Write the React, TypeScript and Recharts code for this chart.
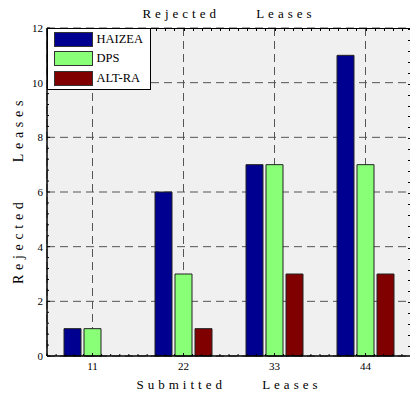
import { Bar, BarChart, CartesianGrid, Legend, XAxis, YAxis } from "recharts";

const LEASES = ["11", "22", "33", "44"];
const HAIZEA = [1, 6, 7, 11];
const DPS = [1, 3, 7, 7];
const ALT_RA = [0, 1, 3, 3];
const SERIES = ["HAIZEA", "DPS", "ALT-RA"];

const Y_TICKS = [0, 2, 4, 6, 8, 10, 12];

const SERIF = '"Liberation Serif", "Times New Roman", serif';
const SPACED = { fontFamily: SERIF, fontSize: 13, fill: "#000", letterSpacing: 4, wordSpacing: 29 };
const AXIS_LINE = { stroke: "#000", strokeWidth: 1.5 };
const X_MARGIN = 6;
const Y_MARGIN = 4;

const data = LEASES.map((lease, i) => ({
  lease,
  HAIZEA: HAIZEA[i],
  DPS: DPS[i],
  "ALT-RA": ALT_RA[i],
}));

// category label plus the small tick marks along the bottom edge
function XTick(props: any) {
  const { x, y, payload, width, visibleTicksCount } = props;
  const band = width / visibleTicksCount;
  const base = y - X_MARGIN;
  const marks = [];
  for (let k = -5; k < 5; k++) {
    const mx = x + (k * band) / 10;
    marks.push(<line key={k} x1={mx} x2={mx} y1={base} y2={base - (k === 0 ? 3 : 2)} stroke="#000" />);
  }
  return (
    <g>
      {marks}
      <text x={x} y={y} dy="0.71em" textAnchor="middle" fontFamily={SERIF} fontSize={11} fill="#000">
        {payload.value}
      </text>
    </g>
  );
}

function YTick(props: any) {
  const { x, y, payload, index, height, visibleTicksCount } = props;
  const step = height / ((visibleTicksCount - 1) * 5);
  const base = x + Y_MARGIN;
  const marks = [<line key="M" x1={base} x2={base + 3} y1={y} y2={y} stroke="#000" />];
  if (index > 0) {
    for (let j = 1; j < 5; j++) {
      marks.push(<line key={j} x1={base} x2={base + 2} y1={y + j * step} y2={y + j * step} stroke="#000" />);
    }
  }
  return (
    <g>
      {marks}
      <text x={x} y={y} dy="0.36em" textAnchor="end" fontFamily={SERIF} fontSize={11} fill="#000">
        {payload.value}
      </text>
    </g>
  );
}

function LegendBox({ payload }: { payload?: any[] }) {
  const items = [...(payload ?? [])].sort((a, b) => SERIES.indexOf(a.value) - SERIES.indexOf(b.value));
  return (
    <div
      style={{
        boxSizing: "border-box",
        width: 104,
        height: 62,
        border: "1.5px solid #000",
        background: "#fff",
        padding: "0.5px 0 0 5.5px",
      }}
    >
      {items.map((p) => (
        <div key={p.value} style={{ display: "flex", alignItems: "center", height: 19.5 }}>
          <span
            style={{
              display: "inline-block",
              boxSizing: "border-box",
              width: 39,
              height: 15,
              background: p.color,
              border: "1px solid #333",
            }}
          />
          <span style={{ marginLeft: 4, fontFamily: SERIF, fontSize: 12.5, color: "#000", lineHeight: "15px" }}>
            {p.value}
          </span>
        </div>
      ))}
    </div>
  );
}

export default function App() {
  return (
    <div style={{ position: "absolute", left: 0, top: 0, width: 410, height: 394, overflow: "hidden", background: "#fff" }}>
      <BarChart
        width={420}
        height={394}
        data={data}
        margin={{ top: 28, right: 9, left: 0, bottom: 0 }}
        barSize={17}
        barGap={3}
      >
        <CartesianGrid fill="#f0f0f0" stroke="#555" strokeDasharray="8 5" />
        <XAxis
          dataKey="lease"
          height={38}
          interval={0}
          tickSize={0}
          tickMargin={X_MARGIN}
          tickLine={false}
          axisLine={AXIS_LINE}
          tick={<XTick />}
          label={{
            content: (p: any) => (
              <text x={p.viewBox.x + p.viewBox.width / 2} y={389} textAnchor="middle" style={SPACED}>
                Submitted Leases
              </text>
            ),
          }}
        />
        <YAxis
          domain={[0, 12]}
          ticks={Y_TICKS}
          interval={0}
          width={47}
          tickSize={0}
          tickMargin={Y_MARGIN}
          tickLine={false}
          axisLine={AXIS_LINE}
          tick={<YTick />}
          label={{
            content: () => (
              <text
                x={22.5}
                y={190}
                transform="rotate(-90 22.5 190)"
                textAnchor="middle"
                style={{ ...SPACED, fontSize: 14, letterSpacing: 4.7, wordSpacing: 27 }}
              >
                Rejected Leases
              </text>
            ),
          }}
        />
        <Legend
          layout="vertical"
          align="center"
          verticalAlign="middle"
          content={(props: any) => <LegendBox payload={props.payload} />}
          wrapperStyle={{ left: 47, top: 28, width: 104, height: 62, zIndex: 2 }}
        />
        <Bar dataKey="HAIZEA" fill="#000090" stroke="#222" isAnimationActive={false} />
        <Bar dataKey="DPS" fill="#88ff77" stroke="#222" isAnimationActive={false} />
        <Bar dataKey="ALT-RA" fill="#800000" stroke="#222" isAnimationActive={false} />
      </BarChart>
      <div
        style={{
          position: "absolute",
          left: 47,
          top: 2,
          width: 364,
          textAlign: "center",
          fontFamily: SERIF,
          fontSize: 13,
          lineHeight: "24px",
          letterSpacing: 4,
          wordSpacing: 29,
          color: "#000",
        }}
      >
        Rejected Leases
      </div>
      <div
        style={{
          position: "absolute",
          left: 47,
          top: 28,
          width: 364,
          height: 328,
          boxSizing: "border-box",
          borderTop: "1.5px solid #000",
          borderRight: "1.5px solid #000",
          pointerEvents: "none",
          zIndex: 1,
        }}
      >
        <div
          style={{
            position: "absolute",
            left: 0,
            top: 0,
            width: "100%",
            height: 2,
            background: "repeating-linear-gradient(90deg, #000 0 1px, transparent 1px 9.1px)",
          }}
        />
        <div
          style={{
            position: "absolute",
            right: 0,
            top: 0,
            width: 2,
            height: "100%",
            background: "repeating-linear-gradient(180deg, #000 0 1px, transparent 1px 10.933px)",
          }}
        />
      </div>
    </div>
  );
}
